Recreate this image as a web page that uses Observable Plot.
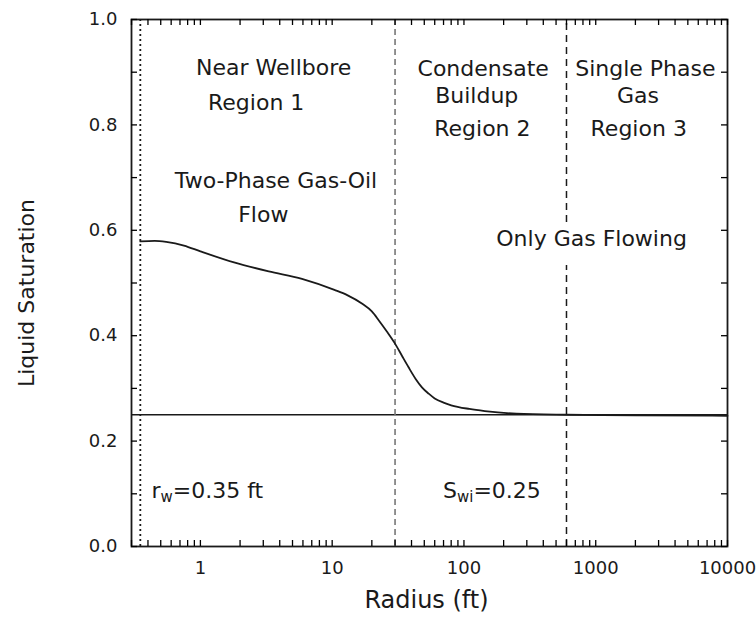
<!DOCTYPE html>
<html><head><meta charset="utf-8">
<script src="https://cdn.jsdelivr.net/npm/d3@7"></script>
<script src="https://cdn.jsdelivr.net/npm/@observablehq/plot@0.6"></script>
<style>
html,body{margin:0;padding:0;background:#fff;}
#chart svg{display:block;font-family:'DejaVu Sans',sans-serif;color:#1a1a1a;background:#fff;}
</style></head><body><div id="chart"></div>
<script>
// ---- data ----
const radius     = [0.35, 0.45, 0.55, 0.75, 1.0, 1.8, 3.3, 5.9, 10.4, 13, 16.8, 20, 22.6, 26, 30, 34, 38, 43, 48, 54, 60, 70, 80, 110, 144, 250, 600, 2000, 10000];
const saturation = [0.579, 0.580, 0.578, 0.571, 0.560, 0.539, 0.522, 0.508, 0.487, 0.477, 0.461, 0.446, 0.429, 0.408, 0.385, 0.361, 0.340, 0.318, 0.302, 0.290, 0.281, 0.273, 0.268, 0.261, 0.257, 0.252, 0.250, 0.249, 0.248];
const wellboreRadius = 0.35;
const region2Edge = 30;
const region3Edge = 600;
const swi = 0.25;
const region3Gap = [0.533, 0.615];
const xDomain = [0.3, 10000];
const yDomain = [0, 1];
const xTickValues = [1, 10, 100, 1000, 10000];
const xTickLabels = ["1", "10", "100", "1000", "10000"];
const yTickValues = [0, 0.2, 0.4, 0.6, 0.8, 1.0];
const yTickLabels = ["0.0", "0.2", "0.4", "0.6", "0.8", "1.0"];
const yMinorTicks = [0, 0.1, 0.2, 0.3, 0.4, 0.5, 0.6, 0.7, 0.8, 0.9, 1.0];
const labelTexts = ["Near Wellbore", "Region 1", "Two-Phase Gas-Oil", "Flow", "Condensate", "Buildup", "Region 2", "Single Phase", "Gas", "Region 3", "Only Gas Flowing", "rw=0.35 ft", "Swi=0.25"];
const labelX     = [3.6, 2.65, 3.75, 3.0, 140, 125, 138, 2380, 2090, 2120, 930, 1.13, 163];
const labelY     = [0.909, 0.842, 0.693, 0.630, 0.907, 0.854, 0.793, 0.907, 0.854, 0.793, 0.584, 0.106, 0.106];
const subscripted = {"rw=0.35 ft": ["r", "w", "=0.35 ft"], "Swi=0.25": ["S", "wi", "=0.25"]};
const xTitle = "Radius (ft)";
const yTitle = "Liquid Saturation";

// ---- layout ----
const W = 756, H = 628, mL = 131, mR = 29, mT = 19, mB = 82;
const innerW = W - mL - mR, innerH = H - mT - mB, tickLen = 6;

// ---- derived tables ----
const curve = radius.map((r, i) => ({r, s: saturation[i]}));
const labels = labelTexts.map((t, i) => ({t, x: labelX[i], y: labelY[i]}));
const region3Segments = [{x: region3Edge, y1: yDomain[0], y2: region3Gap[0]}, {x: region3Edge, y1: region3Gap[1], y2: yDomain[1]}];
const xMinorTicks = d3.scaleLog().domain(xDomain).ticks();
const ink = "#1a1a1a";

const plot = Plot.plot({
  width: W, height: H,
  marginLeft: mL, marginRight: mR, marginTop: mT, marginBottom: mB,
  x: {type: "log", domain: xDomain},
  y: {domain: yDomain},
  marks: [
    Plot.ruleY([swi], {stroke: ink, strokeWidth: 1.3}),
    Plot.ruleX([wellboreRadius], {stroke: ink, strokeWidth: 1.8, strokeDasharray: "2,3"}),
    Plot.ruleX([region2Edge], {stroke: "#777", strokeWidth: 1.6, strokeDasharray: "6,4"}),
    Plot.ruleX(region3Segments, {x: "x", y1: "y1", y2: "y2", stroke: ink, strokeWidth: 1.5, strokeDasharray: "7,5"}),
    Plot.line(curve, {x: "r", y: "s", stroke: ink, strokeWidth: 1.8, curve: "monotone-x"}),
    Plot.frame({stroke: ink, strokeWidth: 1.8}),
    // inward ticks on all four sides
    Plot.tickX(xMinorTicks, {x: d => d, insetTop: innerH - tickLen, stroke: "black", strokeWidth: 1.3}),
    Plot.tickX(xMinorTicks, {x: d => d, insetBottom: innerH - tickLen, stroke: "black", strokeWidth: 1.3}),
    Plot.tickY(yMinorTicks, {y: d => d, insetRight: innerW - tickLen, stroke: "black", strokeWidth: 1.3}),
    Plot.tickY(yMinorTicks, {y: d => d, insetLeft: innerW - tickLen, stroke: "black", strokeWidth: 1.3}),
    Plot.axisX(xTickValues, {anchor: "bottom", tickSize: 0, tickPadding: 15, fontSize: 18, label: null,
      tickFormat: d => xTickLabels[xTickValues.indexOf(d)]}),
    Plot.axisY(yTickValues, {anchor: "left", tickSize: 0, tickPadding: 14, fontSize: 18, label: null,
      tickFormat: d => yTickLabels[yTickValues.findIndex(v => Math.abs(v - d) < 1e-9)]}),
    Plot.text(labels, {x: "x", y: "y", text: "t", fontSize: 22, fill: ink}),
    Plot.text([xTitle], {frameAnchor: "bottom", textAnchor: "middle", lineAnchor: "middle", dx: -3, dy: 54, fontSize: 24, fill: ink}),
    Plot.text([yTitle], {frameAnchor: "left", textAnchor: "middle", lineAnchor: "middle", dx: -105, dy: 10, rotate: -90, fontSize: 22, fill: ink})
  ]
});

d3.select(plot).selectAll("text").each(function() {
  const parts = subscripted[this.textContent];
  if (!parts) return;
  const el = d3.select(this);
  el.text(null);
  el.append("tspan").text(parts[0]);
  el.append("tspan").attr("font-size", "0.68em").attr("dy", "0.3em").text(parts[1]);
  el.append("tspan").attr("dy", "-0.2em").text(parts[2]);
});

document.getElementById("chart").appendChild(plot);
</script>
</body></html>
